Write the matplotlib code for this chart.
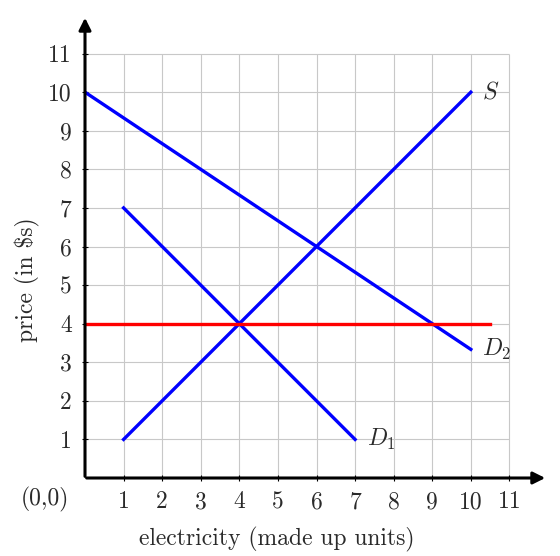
import matplotlib
matplotlib.use("Agg")
import matplotlib.pyplot as plt

plt.rcParams["font.family"] = "serif"
plt.rcParams["font.serif"] = ["cmr10", "DejaVu Serif"]
plt.rcParams["mathtext.fontset"] = "cm"
plt.rcParams["axes.unicode_minus"] = False

# supply and demand curves (endpoints)
supply_x = [1, 10]
supply_y = [1, 10]
demand1_x = [1, 7]
demand1_y = [7, 1]
demand2_x = [0, 10]
demand2_y = [10, 10 / 3]
price_x = [0, 10.5]
price_y = [4, 4]

ticks = list(range(1, 12))
grid = list(range(0, 12))
txt = "#2a2a2a"

fig = plt.figure(figsize=(5.6, 5.56), dpi=100)
ax = fig.add_axes([85 / 560, 78 / 556, 463 / 560, 463 / 556])
ax.set_xlim(0, 12)
ax.set_ylim(0, 12)
for s in ax.spines.values():
    s.set_visible(False)

# grid
ax.vlines(grid, 0, 11, color="#c8c8c8", lw=0.8, zorder=1)
ax.hlines(grid, 0, 11, color="#c8c8c8", lw=0.8, zorder=1)

# axes with arrows
ax.annotate("", xy=(12.0, 0), xytext=(-0.03, 0),
            arrowprops=dict(arrowstyle="-|>", lw=2.2, color="black", mutation_scale=18), zorder=5)
ax.annotate("", xy=(0, 12.0), xytext=(0, -0.03),
            arrowprops=dict(arrowstyle="-|>", lw=2.2, color="black", mutation_scale=18), zorder=5)

ax.set_xticks(ticks)
ax.set_yticks(ticks)
ax.set_xticklabels([str(t) for t in ticks])
ax.set_yticklabels([str(t) for t in ticks])
ax.tick_params(direction="inout", length=5, width=0.8, labelsize=17, pad=7, labelcolor=txt)

ax.plot(supply_x, supply_y, color="#0000ff", lw=2.4, zorder=3)
ax.plot(demand1_x, demand1_y, color="#0000ff", lw=2.4, zorder=3)
ax.plot(demand2_x, demand2_y, color="#0000ff", lw=2.4, zorder=3)
ax.plot(price_x, price_y, color="#ff0000", lw=2.4, zorder=4)

ax.text(supply_x[1] + 0.3, supply_y[1], r"$S$", fontsize=17, va="center", ha="left", color=txt)
ax.text(demand2_x[1] + 0.3, demand2_y[1], r"$D_2$", fontsize=17, va="center", ha="left", color=txt)
ax.text(demand1_x[1] + 0.3, demand1_y[1], r"$D_1$", fontsize=17, va="center", ha="left", color=txt)

ax.text(-1.03, -0.55, "(0,0)", fontsize=17, ha="center", va="center", color=txt)
ax.text(4.98, -1.6, "electricity (made up units)", fontsize=17, ha="center", va="center", color=txt)
ax.text(-1.5, 5.13, "price (in \\$s)", fontsize=17, ha="center", va="center", rotation=90, color=txt)

fig.savefig("out.png", dpi=100)
